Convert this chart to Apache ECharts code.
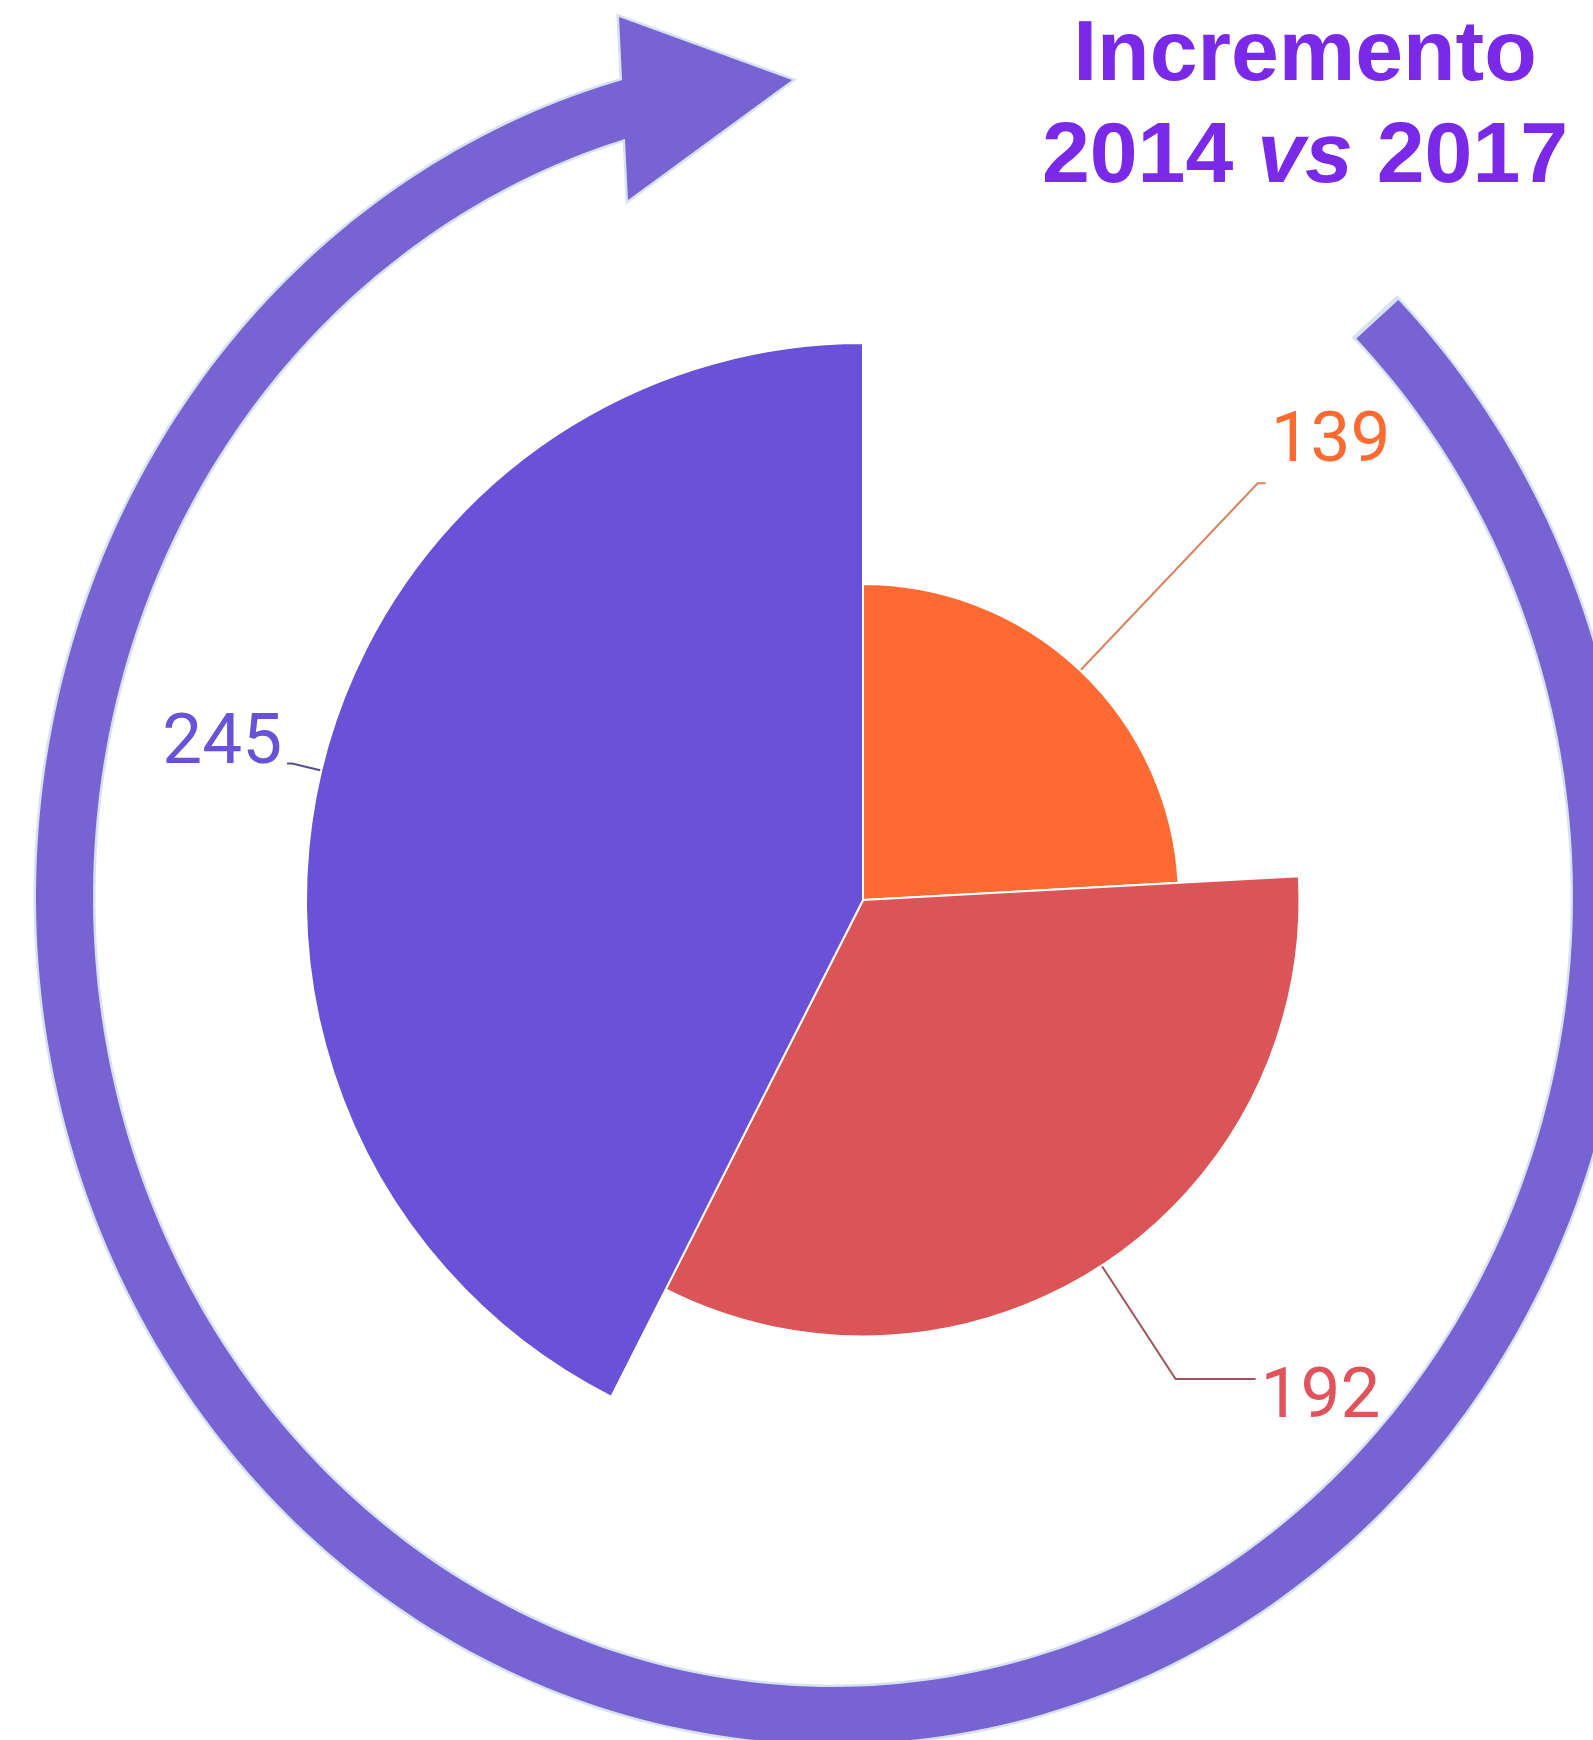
<!DOCTYPE html>
<html>
<head>
<meta charset="utf-8">
<script src="https://cdn.jsdelivr.net/npm/echarts@6/dist/echarts.min.js"></script>
<style>
html, body { margin: 0; padding: 0; background: #fff; }
#chart { width: 1593px; height: 1740px; }
</style>
</head>
<body>
<div id="chart"></div>
<script>
// datos del gráfico
const categorias = ['Grupo A', 'Grupo B', 'Grupo C'];
const valores = [139, 192, 245];
const colores = ['#FF6A33', '#DB5457', '#6A52D8'];
const coloresTexto = ['#FF6A33', '#E0535A', '#6A52D8'];
const coloresLinea = ['#D9825F', '#9E5458', '#5B4C93'];
const tituloLineas = ['Incremento', '2014 {i|vs} 2017'];

// ajustes de etiqueta por sector (guía y desplazamiento vertical, negativo = arriba)
const ajusteEtiqueta = [
  { length: 17, length2: 8, desplazar: -40 },
  { length: 15, length2: 80, desplazar: 20 },
  { length: 30, length2: 5, desplazar: -18 }
];

// puntos de la flecha circular decorativa (elipse)
function puntosArco(cx, cy, rx, ry, a0, a1) {
  const pts = [];
  const n = 300;
  for (let i = 0; i <= n; i++) {
    const t = (a0 + (a1 - a0) * i / n) * Math.PI / 180;
    pts.push([cx + rx * Math.cos(t), cy + ry * Math.sin(t)]);
  }
  return pts;
}

const colorAnillo = '#7763D2';
const colorBorde = '#D8E1F4';
const cabeza = [[619, 17], [792, 80], [628, 200]];

// estilos rich para las etiquetas
const richEtiquetas = {};
ajusteEtiqueta.forEach(function (a, i) {
  richEtiquetas['v' + i] = {
    fontFamily: 'Roboto',
    fontSize: 71,
    lineHeight: 80,
    color: coloresTexto[i],
    textBorderColor: '#fff',
    textBorderWidth: 2
  };
  richEtiquetas['s' + i] = {
    fontSize: 1,
    lineHeight: Math.abs(a.desplazar) * 2
  };
});

const chart = echarts.init(document.getElementById('chart'));

const option = {
  animation: false,
  backgroundColor: '#fff',
  title: {
    text: tituloLineas.join('\n'),
    left: 1305,
    top: 5,
    textAlign: 'center',
    padding: 0,
    textStyle: {
      fontFamily: 'Liberation Sans',
      fontSize: 86,
      fontWeight: 'bold',
      color: '#7B29E8',
      lineHeight: 102,
      rich: {
        i: {
          fontFamily: 'Liberation Sans',
          fontSize: 86,
          fontWeight: 'bold',
          fontStyle: 'italic',
          color: '#7B29E8',
          lineHeight: 102
        }
      }
    }
  },
  graphic: [
    {
      type: 'polyline',
      z: 1,
      shape: { points: puntosArco(833, 897, 768.5, 818.5, -45.2, 257) },
      style: { stroke: colorBorde, lineWidth: 62, fill: null, lineCap: 'butt' },
      silent: true
    },
    {
      type: 'polygon',
      z: 2,
      shape: { points: cabeza },
      style: { fill: colorBorde, stroke: colorBorde, lineWidth: 5, lineJoin: 'miter' },
      silent: true
    },
    {
      type: 'polyline',
      z: 3,
      shape: { points: puntosArco(833, 897, 768.5, 818.5, -44.9, 257) },
      style: { stroke: colorAnillo, lineWidth: 57, fill: null, lineCap: 'butt' },
      silent: true
    },
    {
      type: 'polygon',
      z: 4,
      shape: { points: cabeza },
      style: { fill: colorAnillo },
      silent: true
    }
  ],
  series: [
    {
      type: 'pie',
      roseType: 'radius',
      center: [863, 900],
      radius: [0, 557],
      startAngle: 90,
      clockwise: true,
      avoidLabelOverlap: false,
      itemStyle: { borderColor: '#fff', borderWidth: 2 },
      label: {
        show: true,
        position: 'outside',
        formatter: function (p) {
          const i = p.dataIndex;
          const v = '{v' + i + '|' + p.value + '}';
          const s = '{s' + i + '| }';
          return ajusteEtiqueta[i].desplazar < 0 ? v + '\n' + s : s + '\n' + v;
        },
        rich: richEtiquetas
      },
      labelLine: { show: true, lineStyle: { width: 2 } },
      data: categorias.map(function (nombre, i) {
        return {
          name: nombre,
          value: valores[i],
          itemStyle: { color: colores[i] },
          labelLine: {
            length: ajusteEtiqueta[i].length,
            length2: ajusteEtiqueta[i].length2,
            lineStyle: { color: coloresLinea[i] }
          }
        };
      })
    }
  ]
};

chart.setOption(option);
</script>
</body>
</html>
